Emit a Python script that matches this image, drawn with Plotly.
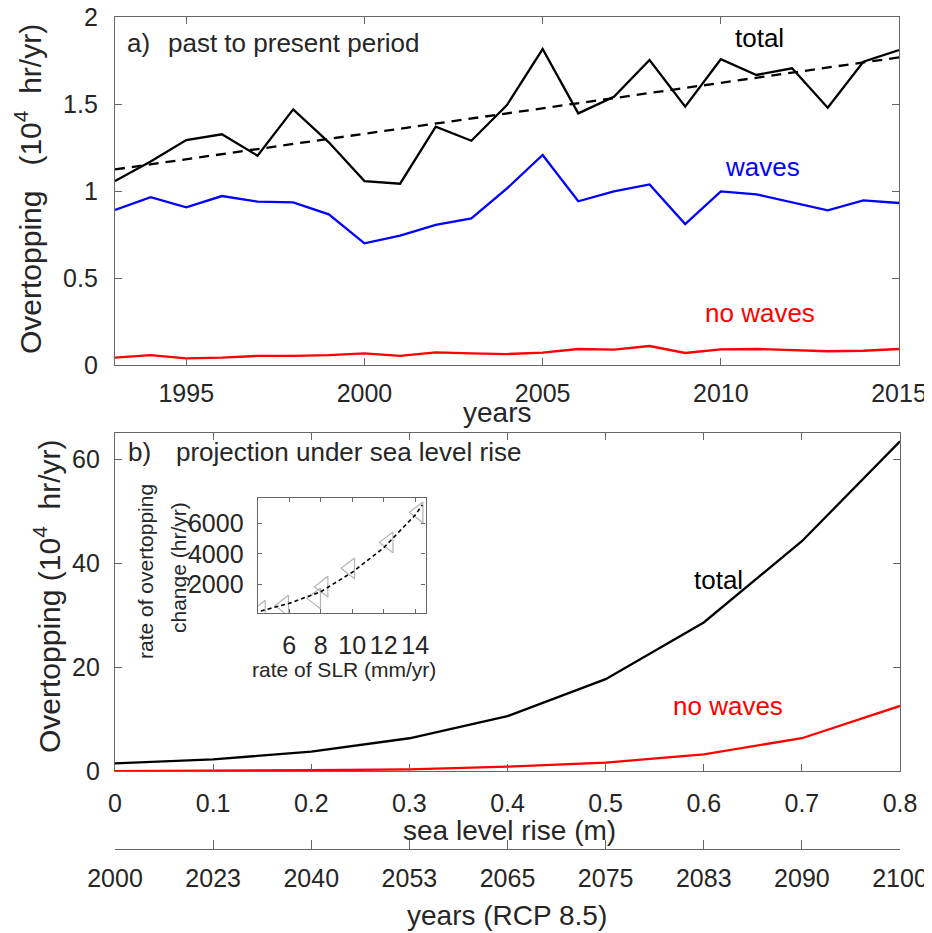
import plotly.graph_objects as go

# ---------------- data ----------------
years_past = list(range(1993, 2016))
total_past = [1.057, 1.17, 1.293, 1.326, 1.203, 1.469, 1.28, 1.057, 1.042, 1.37, 1.289, 1.494,
              1.816, 1.446, 1.542, 1.753, 1.485, 1.757, 1.667, 1.705, 1.479, 1.743, 1.81]
waves_past = [0.891, 0.964, 0.906, 0.971, 0.939, 0.935, 0.866, 0.699, 0.743, 0.805, 0.843, 1.015,
              1.207, 0.941, 0.998, 1.038, 0.810, 0.998, 0.981, 0.935, 0.889, 0.946, 0.931]
nowaves_past = [0.042, 0.057, 0.038, 0.042, 0.052, 0.052, 0.057, 0.067, 0.052, 0.073, 0.067, 0.063,
                0.071, 0.092, 0.088, 0.109, 0.069, 0.090, 0.092, 0.086, 0.079, 0.082, 0.092]
trend_years = [1993, 2015]
trend_vals = [1.124, 1.768]

slr = [0, 0.1, 0.2, 0.3, 0.4, 0.5, 0.6, 0.7, 0.8]
slr_labels = ["0", "0.1", "0.2", "0.3", "0.4", "0.5", "0.6", "0.7", "0.8"]
rcp_years = ["2000", "2023", "2040", "2053", "2065", "2075", "2083", "2090", "2100"]
total_proj = [1.54, 2.3, 3.77, 6.35, 10.6, 17.7, 28.6, 44.2, 63.4]
nowaves_proj = [0.05, 0.1, 0.2, 0.38, 0.9, 1.66, 3.26, 6.35, 12.56]

inset_rate_slr = [4.19, 5.67, 7.70, 8.17, 9.86, 12.3, 14.2]
inset_rate_ovt = [270, 600, 1080, 1845, 3050, 4750, 6720]
inset_fit_x = [4.2, 6, 8, 10, 12, 14, 14.45]
inset_fit_y = [250, 755, 1515, 2790, 4400, 6550, 7200]

# ---------------- helpers ----------------
OFF = 8  # page body margin
W, H = 932 - OFF, 933 - OFF
def X(p): return (p - OFF) / W
def Y(p): return 1 - (p - OFF) / H

AX = "#666666"
TXT = "#262626"
FONT = "Liberation Sans, Arial, sans-serif"

fig = go.Figure()

# top panel
fig.add_trace(go.Scatter(x=trend_years, y=trend_vals, mode="lines",
                         line=dict(color="black", width=2.3, dash="10px,7px"),
                         xaxis="x", yaxis="y", showlegend=False))
fig.add_trace(go.Scatter(x=years_past, y=total_past, mode="lines",
                         line=dict(color="black", width=2.3), xaxis="x", yaxis="y", showlegend=False))
fig.add_trace(go.Scatter(x=years_past, y=waves_past, mode="lines",
                         line=dict(color="#0000ff", width=2.3), xaxis="x", yaxis="y", showlegend=False))
fig.add_trace(go.Scatter(x=years_past, y=nowaves_past, mode="lines",
                         line=dict(color="#ff0000", width=2.3), xaxis="x", yaxis="y", showlegend=False))

# bottom panel
fig.add_trace(go.Scatter(x=slr, y=total_proj, mode="lines",
                         line=dict(color="black", width=2.3), xaxis="x2", yaxis="y2", showlegend=False))
fig.add_trace(go.Scatter(x=slr, y=nowaves_proj, mode="lines",
                         line=dict(color="#ff0000", width=2.3), xaxis="x2", yaxis="y2", showlegend=False))
# invisible trace so that the years axis is drawn
fig.add_trace(go.Scatter(x=slr, y=total_proj, mode="lines", line=dict(color="rgba(0,0,0,0)"),
                         xaxis="x3", yaxis="y2", showlegend=False, hoverinfo="skip"))

# inset
fig.add_trace(go.Scatter(x=inset_rate_slr, y=inset_rate_ovt, mode="markers",
                         marker=dict(symbol="triangle-left-open", size=18, color="#b4b4b4",
                                     line=dict(width=1.2, color="#b4b4b4")),
                         xaxis="x4", yaxis="y4", showlegend=False))
fig.add_trace(go.Scatter(x=inset_fit_x, y=inset_fit_y, mode="lines",
                         line=dict(color="black", width=1.6, dash="4px,3px"),
                         xaxis="x4", yaxis="y4", showlegend=False))

common = dict(showline=True, linecolor=AX, linewidth=1.3, mirror="ticks", ticks="inside",
              ticklen=7, tickcolor=AX, tickwidth=1.2, showgrid=False, zeroline=False,
              automargin=False, tickangle=0,
              tickfont=dict(family=FONT, size=25, color=TXT))

fig.update_layout(
    template="none",
    width=W, height=H, margin=dict(l=0, r=0, t=0, b=0, pad=0, autoexpand=False),
    paper_bgcolor="white", plot_bgcolor="white",
    font=dict(family=FONT, color=TXT),
    xaxis=dict(domain=[X(115), X(899)], range=[1993, 2015], anchor="y",
               tickvals=[1995, 2000, 2005, 2010, 2015], ticklabelstandoff=6, **common),
    yaxis=dict(domain=[Y(365), Y(17)], range=[0, 2], anchor="x",
               tickvals=[0, 0.5, 1, 1.5, 2], ticktext=["0", "0.5", "1", "1.5", "2"],
               ticklabelstandoff=11, **common),
    xaxis2=dict(domain=[X(115), X(900)], range=[0, 0.8], anchor="y2",
                tickvals=slr, ticktext=slr_labels, ticklabelstandoff=10, **common),
    yaxis2=dict(domain=[Y(771.3), Y(433)], range=[0, 65], anchor="x2",
                tickvals=[0, 20, 40, 60], ticklabelstandoff=9, **common),
    xaxis3=dict(overlaying="x2", anchor="free", position=Y(849.3), side="bottom",
                range=[0, 0.8], tickvals=slr, ticktext=rcp_years,
                showline=True, linecolor=AX, linewidth=1.3, ticks="inside", ticklen=9,
                tickcolor=AX, tickwidth=1.2, showgrid=False, zeroline=False,
                automargin=False, tickangle=0,
                ticklabelstandoff=7, tickfont=dict(family=FONT, size=25, color=TXT)),
    xaxis4=dict(domain=[X(257.7), X(425.5)], range=[4, 14.65], anchor="y4",
                tickvals=[6, 8, 10, 12, 14], ticklabelstandoff=10,
                **{**common, "ticklen": 4}),
    yaxis4=dict(domain=[Y(612.7), Y(497.7)], range=[140, 7680], anchor="x4",
                tickvals=[2000, 4000, 6000], ticklabelstandoff=8,
                **{**common, "ticklen": 4}),
)

ann = []
def txt(x, y, t, size=26, color=TXT, xanchor="center", angle=0):
    ann.append(dict(x=X(x), y=Y(y), xref="paper", yref="paper", text=t, showarrow=False,
                    xanchor=xanchor, yanchor="middle", textangle=angle,
                    font=dict(family=FONT, size=size, color=color)))

NB = "\u00a0"
# top panel texts
txt(125, 43, "a)", xanchor="left")
txt(166, 43, "past to present period", xanchor="left")
txt(759, 38, "total", color="black")
txt(762, 167, "waves", color="#0000ff")
txt(760, 313, "no waves", color="#ff0000")
txt(28, 189, "Overtopping" + NB * 3 + "(10<sup>4</sup>" + NB * 2 + "hr/yr)", size=30, angle=-90)
txt(497, 412, "years", size=28)

# bottom panel texts
txt(126, 452, "b)", xanchor="left")
txt(174, 452, "projection under sea level rise", xanchor="left")
txt(718, 580, "total", color="black")
txt(728, 706, "no waves", color="#ff0000")
txt(47, 596, "Overtopping (10<sup>4</sup>" + NB * 2 + "hr/yr)", size=30, angle=-90)
txt(509, 830, "sea level rise (m)", size=28)
txt(507, 915, "years (RCP 8.5)", size=28)

# inset texts
txt(145, 572, "rate of overtopping", size=21, angle=-90)
txt(178, 568, "change (hr/yr)", size=21, angle=-90)
txt(344, 669, "rate of SLR (mm/yr)", size=21)

fig.update_layout(annotations=ann)
fig.write_html("out.html")
